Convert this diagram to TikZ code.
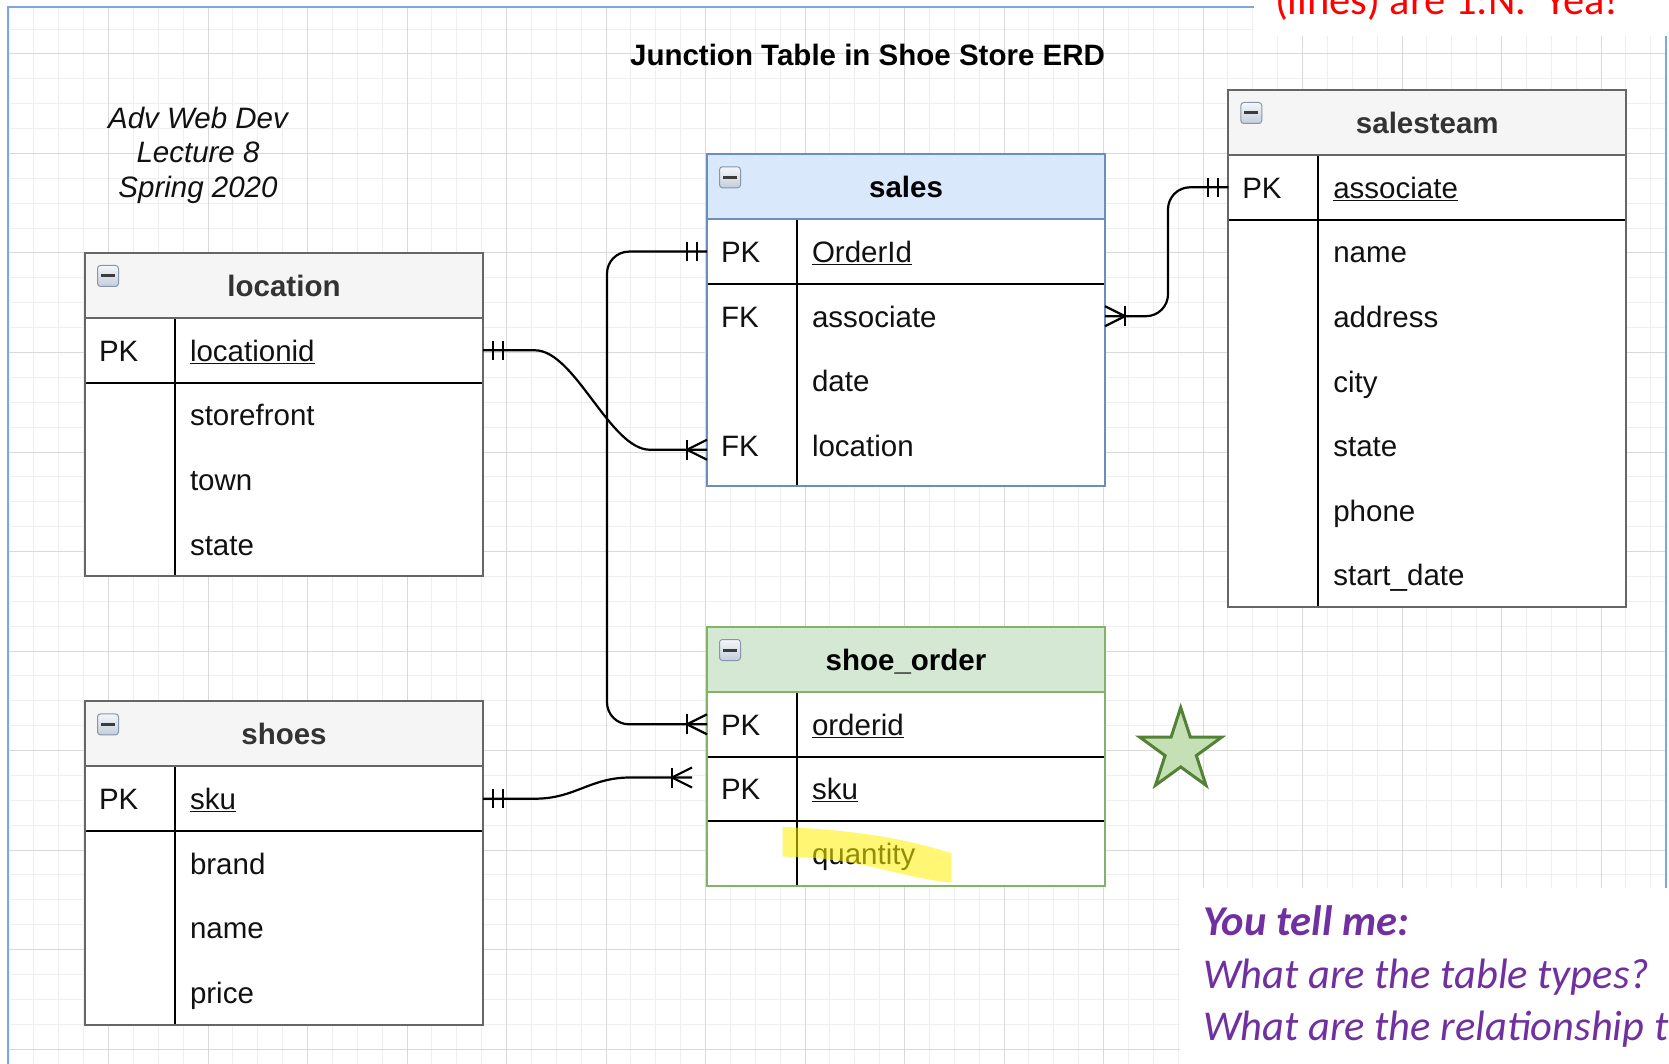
\documentclass[tikz,border=0pt]{standalone}
\usepackage{fontspec}
\setmainfont{Liberation Sans}
\newfontfamily\calibfont{Carlito}
\usetikzlibrary{calc,shapes.geometric}

\definecolor{gridminor}{HTML}{EFEFEF}
\definecolor{gridmajor}{HTML}{D9D9D9}
\definecolor{frameblue}{HTML}{7EA6E0}
\definecolor{cHdrGrey}{HTML}{F5F5F5}
\definecolor{cBdrGrey}{HTML}{666666}
\definecolor{cHdrBlue}{HTML}{DAE8FC}
\definecolor{cBdrBlue}{HTML}{6C8EBF}
\definecolor{cHdrGreen}{HTML}{D5E8D4}
\definecolor{cBdrGreen}{HTML}{82B366}
\definecolor{cHdrText}{HTML}{333333}
\definecolor{cCellText}{HTML}{111111}
\definecolor{cPurple}{HTML}{7030A0}
\definecolor{cStarFill}{HTML}{C5E0B4}
\definecolor{cStarLine}{HTML}{538135}
\definecolor{cIconEdge}{HTML}{8796AA}
\definecolor{cIconTop}{HTML}{F4F7FB}
\definecolor{cIconBot}{HTML}{C3CDDA}
\definecolor{cIconBar}{HTML}{3C3C3C}

\newcommand\ertsize{\fontsize{29.5}{35}\selectfont}
\newcommand\notesize{\fontsize{42.5}{50}\selectfont}

\tikzset{
  gminor/.style={draw=gridminor, line width=1pt},
  gmajor/.style={draw=gridmajor, line width=1pt},
  hdr/.style={rectangle, anchor=north west, minimum width=398pt, minimum height=65pt,
    inner sep=0pt, outer sep=0pt, font=\ertsize\bfseries, text height=22pt, text depth=0pt},
  hdrgreybox/.style={hdr, fill=cHdrGrey, text=cHdrText},
  hdrbluebox/.style={hdr, fill=cHdrBlue, text=black},
  hdrgreenbox/.style={hdr, fill=cHdrGreen, text=black},
  rowcell/.style={rectangle, fill=white, minimum width=398pt, inner sep=0pt, outer sep=0pt},
  celltext/.style={anchor=west, inner sep=0pt, outer sep=0pt, font=\ertsize,
    text=cCellText, text height=22pt, text depth=0pt},
  tblborder/.style={line width=2pt},
  tblline/.style={draw=black, line width=2pt},
  iconbox/.style={rectangle, anchor=north west, rounded corners=3pt, minimum size=21pt,
    inner sep=0pt, draw=cIconEdge, line width=1pt, top color=cIconTop, bottom color=cIconBot},
  iconbar/.style={draw=cIconBar, line width=3pt},
  conn/.style={draw=black, line width=2.2pt},
  plaintext/.style={inner sep=0pt, outer sep=0pt, anchor=base},
}

% one attribute row of an ER table: name, north-west corner, height, key, field
% (texts sit on the first 64.6pt of the row)
\newcommand\ertrow[5]{%
  \node[rowcell, minimum height=#3pt, anchor=north west] (#1) at (#2) {};
  \node[celltext] (#1-key) at ([xshift=14pt,yshift=-32.3pt]#1.north west) {#4};
  \node[celltext] (#1-fld) at ([xshift=105pt,yshift=-32.3pt]#1.north west) {#5};
}
% separator under a row
\newcommand\ertsep[1]{\draw[tblline] (#1.south west) -- (#1.south east);}
% key column divider, header rule and outline: header node, last row node, colour
\newcommand\ertframe[3]{%
  \draw[tblline] ([xshift=90pt]#1.south west) -- ([xshift=90pt]#2.south west);
  \draw[tblborder, draw=#3] (#1.south west) -- (#1.south east);
  \draw[tblborder, draw=#3] (#1.north west) rectangle (#2.south east);
}
% collapse icon in a header
\newcommand\erticon[2]{%
  \node[iconbox] (#1) at ([xshift=12pt,yshift=-12pt]#2.north west) {};
  \draw[iconbar] ([xshift=-7pt]#1.center) -- ([xshift=7pt]#1.center);
}
% cardinality marks; direction +1 = line leaves to the right, -1 = to the left
\newcommand\mandone[2]{%
  \draw[conn] ($(#1)+(#2*10,-9.5)$) -- ++(0,19);
  \draw[conn] ($(#1)+(#2*20,-9.5)$) -- ++(0,19);
}
\newcommand\crowmany[2]{%
  \draw[conn] ($(#1)+(#2*20,-10)$) -- ++(0,20);
  \draw[conn] ($(#1)+(0,-10)$) -- ($(#1)+(#2*20,0)$) -- ($(#1)+(0,10)$);
}

\begin{document}
\begin{tikzpicture}[x=1pt, y=-1pt]
\useasboundingbox (0,0) rectangle (1669,1064);
\clip (0,0) rectangle (1669,1064);
\fill[white] (0,0) rectangle (1669,1064);

% background grid
\foreach \i in {0,...,66} \draw[gminor] ({9+\i*24.875},7) -- ({9+\i*24.875},1064);
\foreach \k in {1,...,42} \draw[gminor] (8,{4.25+\k*24.875}) -- (1666,{4.25+\k*24.875});
\foreach \i in {0,...,15} \draw[gmajor] ({108.5+\i*99.5},7) -- ({108.5+\i*99.5},1064);
\foreach \k in {0,...,10} \draw[gmajor] (8,{54+\k*99.5}) -- (1666,{54+\k*99.5});

% page frame
\draw[line width=2pt, frameblue] (8,7) rectangle (1666,1090);

% note areas
\fill[white] (1254,-5) rectangle (1680,36);
\fill[white] (1180,888) rectangle (1680,1080);

% titles
\node[plaintext, font=\ertsize\bfseries] (title) at (867.5,66) {Junction Table in Shoe Store ERD};
\node[plaintext, font=\ertsize\itshape, text=cCellText] (lec1) at (198,128.3) {Adv Web Dev};
\node[plaintext, font=\ertsize\itshape, text=cCellText] (lec2) at (198,162.7) {Lecture 8};
\node[plaintext, font=\ertsize\itshape, text=cCellText] (lec3) at (198,197.1) {Spring 2020};

% location
\node[hdrgreybox] (loc) at (85,253) {location};
\ertrow{loc-r1}{loc.south west}{64.6}{PK}{\underline{locationid}}
\ertrow{loc-r2}{loc-r1.south west}{64.6}{}{storefront}
\ertrow{loc-r3}{loc-r2.south west}{64.6}{}{town}
\ertrow{loc-r4}{loc-r3.south west}{64.6}{}{state}
\ertsep{loc-r1}
\ertframe{loc}{loc-r4}{cBdrGrey}
\erticon{loc-icon}{loc}

% shoes
\node[hdrgreybox] (shoes) at (85,701.4) {shoes};
\ertrow{shoes-r1}{shoes.south west}{64.6}{PK}{\underline{sku}}
\ertrow{shoes-r2}{shoes-r1.south west}{64.6}{}{brand}
\ertrow{shoes-r3}{shoes-r2.south west}{64.6}{}{name}
\ertrow{shoes-r4}{shoes-r3.south west}{64.6}{}{price}
\ertsep{shoes-r1}
\ertframe{shoes}{shoes-r4}{cBdrGrey}
\erticon{shoes-icon}{shoes}

% sales
\node[hdrbluebox] (sales) at (707,154.3) {sales};
\ertrow{sales-r1}{sales.south west}{64.6}{PK}{\underline{OrderId}}
\ertrow{sales-r2}{sales-r1.south west}{64.6}{FK}{associate}
\ertrow{sales-r3}{sales-r2.south west}{64.6}{}{date}
\ertrow{sales-r4}{sales-r3.south west}{73.3}{FK}{location}
\ertsep{sales-r1}
\ertframe{sales}{sales-r4}{cBdrBlue}
\erticon{sales-icon}{sales}

% salesteam
\node[hdrgreybox] (st) at (1228.3,90) {salesteam};
\ertrow{st-r1}{st.south west}{64.6}{PK}{\underline{associate}}
\ertrow{st-r2}{st-r1.south west}{64.6}{}{name}
\ertrow{st-r3}{st-r2.south west}{64.6}{}{address}
\ertrow{st-r4}{st-r3.south west}{64.6}{}{city}
\ertrow{st-r5}{st-r4.south west}{64.6}{}{state}
\ertrow{st-r6}{st-r5.south west}{64.6}{}{phone}
\ertrow{st-r7}{st-r6.south west}{64.6}{}{start\_date}
\ertsep{st-r1}
\ertframe{st}{st-r7}{cBdrGrey}
\erticon{st-icon}{st}

% shoe_order
\node[hdrgreenbox] (so) at (707,627) {shoe\_order};
\ertrow{so-r1}{so.south west}{64.6}{PK}{\underline{orderid}}
\ertrow{so-r2}{so-r1.south west}{64.6}{PK}{\underline{sku}}
\ertrow{so-r3}{so-r2.south west}{64.6}{}{quantity}
\ertsep{so-r1}
\ertsep{so-r2}
\ertframe{so}{so-r3}{cBdrGreen}
\erticon{so-icon}{so}

% highlighter stroke over quantity
\fill[yellow, opacity=0.55] (782.7,826.7) .. controls (840,830) and (890,834) .. (951.7,853.3)
  -- (951.7,882.7) .. controls (900,878) and (860,857) .. (782.7,856.7) -- cycle;

% relationships
\draw[conn] (loc-r1.east) -- ++(52,0) .. controls +(40,0) and +(-40,0) .. ($(sales-r4.west)+(-57,0)$) -- (sales-r4.west);
\mandone{loc-r1.east}{1}
\crowmany{sales-r4.west}{-1}

\draw[conn, rounded corners=22pt] (sales-r1.west) -- ++(-100,0) |- (so-r1.west);
\mandone{sales-r1.west}{-1}
\crowmany{so-r1.west}{-1}

\coordinate (skuend) at (692,777.5);
\draw[conn] (shoes-r1.east) -- ++(52,0) .. controls +(40,0) and +(-40,0) .. ($(skuend)+(-62,0)$) -- (skuend);
\mandone{shoes-r1.east}{1}
\crowmany{skuend}{-1}

\draw[conn, rounded corners=22pt] (sales-r2.east) -- ++(63,0) |- (st-r1.west);
\crowmany{sales-r2.east}{1}
\mandone{st-r1.west}{-1}

% star
\node[star, star points=5, star point ratio=2.618, minimum size=86pt, inner sep=0pt,
  draw=cStarLine, fill=cStarFill, line width=3pt] (star) at (1180.7,750.5) {};

% notes
\node[plaintext, anchor=base west, text=red, font=\calibfont\notesize] (rednote) at (1275,15) {(lines) are 1:N.\ \ Yea!};
\node[plaintext, anchor=base west, text=cPurple, font=\calibfont\notesize\bfseries\itshape] (ask0) at (1203,935) {You tell me:};
\node[plaintext, anchor=base west, text=cPurple, font=\calibfont\notesize\itshape] (ask1) at (1203,988.3) {What are the table types?};
\node[plaintext, anchor=base west, text=cPurple, font=\calibfont\notesize\itshape] (ask2) at (1203,1040) {What are the relationship types?};
\end{tikzpicture}
\end{document}
